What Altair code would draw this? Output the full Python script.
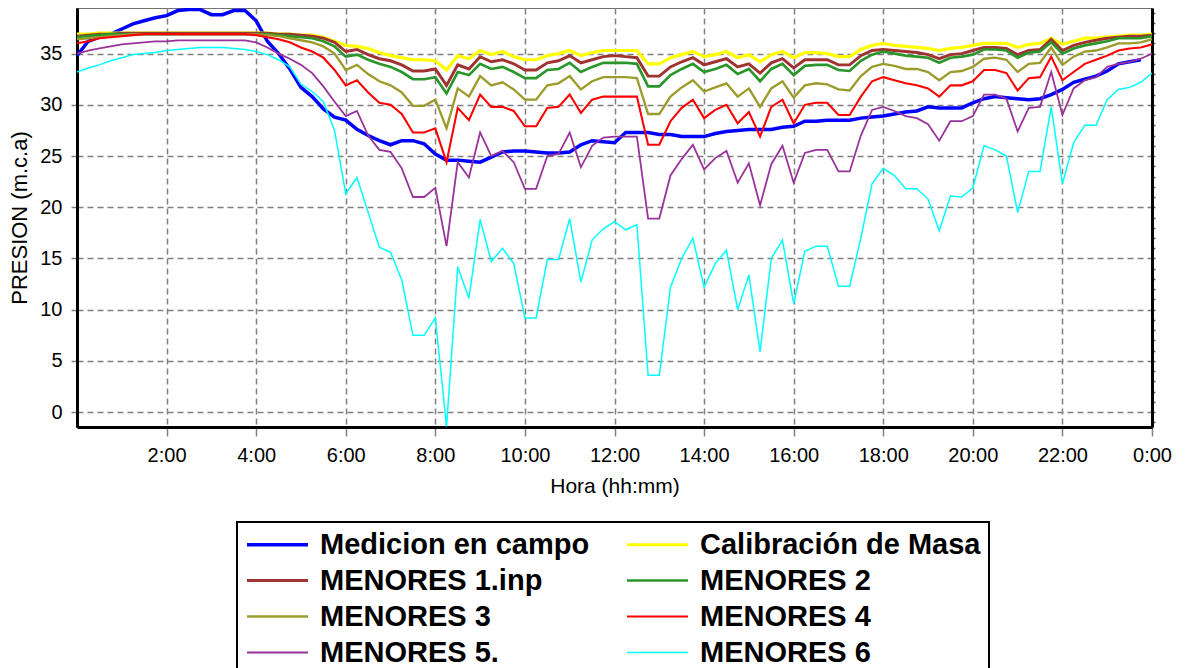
import altair as alt
import pandas as pd

# 15-minute sampling grid, 0:00 .. 24:00
HOURS = [i * 0.25 for i in range(97)]

SERIES = ["Medicion en campo", "Calibración de Masa", "MENORES 1.inp", "MENORES 2",
          "MENORES 3", "MENORES 4", "MENORES 5.", "MENORES 6"]
COLORS = ["#0000FF", "#FFFF00", "#A03232", "#2A962A", "#9C9C2C", "#FF0000", "#993399", "#00FFFF"]
WIDTHS = [3.5, 1.5, 1.5, 1.5, 1.5, 3.5, 1.5, 1.5]

medicion = [
    34.8, 36.2, 36.6, 36.9, 37.4, 37.9, 38.2, 38.5,
    38.7, 39.2, 39.3, 39.3, 38.8, 38.8, 39.2, 39.2,
    38.2, 36.2, 35.0, 33.5, 31.7, 30.8, 29.6, 28.8,
    28.5, 27.6, 27.0, 26.5, 26.1, 26.5, 26.5, 26.2,
    25.2, 24.6, 24.6, 24.5, 24.4, 24.9, 25.4, 25.5,
    25.5, 25.4, 25.3, 25.3, 25.4, 26.1, 26.5, 26.4,
    26.3, 27.3, 27.3, 27.3, 27.1, 27.1, 26.9, 26.9,
    26.9, 27.2, 27.4, 27.5, 27.6, 27.6, 27.6, 27.8,
    27.9, 28.4, 28.4, 28.5, 28.5, 28.5, 28.7, 28.8,
    28.9, 29.1, 29.3, 29.4, 29.8, 29.7, 29.7, 29.7,
    30.2, 30.6, 30.8, 30.7, 30.6, 30.5, 30.6, 31.0,
    31.5, 32.2, 32.5, 32.8, 33.3, 34.0, 34.2, 34.4,
    None,
]
calibracion = [
    36.9, 36.9, 37.0, 37.0, 37.0, 37.0, 37.0, 37.0,
    37.0, 37.0, 37.0, 37.0, 37.0, 37.0, 37.0, 37.0,
    37.0, 37.0, 36.9, 36.9, 36.8, 36.8, 36.6, 36.2,
    35.8, 35.7, 35.5, 35.1, 34.8, 34.6, 34.4, 34.4,
    34.3, 33.4, 34.8, 34.5, 35.3, 34.9, 35.2, 34.7,
    34.4, 34.4, 34.8, 35.0, 35.3, 34.8, 35.1, 35.3,
    35.3, 35.3, 35.3, 34.0, 34.0, 34.6, 34.9, 35.2,
    34.7, 34.9, 35.2, 34.6, 34.9, 34.2, 34.9, 35.2,
    34.6, 35.1, 35.1, 35.0, 34.7, 34.7, 35.4, 35.8,
    36.0, 35.8, 35.7, 35.6, 35.5, 35.3, 35.5, 35.6,
    35.8, 36.0, 36.0, 36.0, 35.6, 35.9, 36.0, 36.5,
    35.9, 36.2, 36.5, 36.5, 36.6, 36.7, 36.8, 36.8,
    36.9,
]
menores1 = [
    36.7, 36.8, 36.9, 36.9, 37.0, 37.0, 37.0, 37.0,
    37.0, 37.0, 37.0, 37.0, 37.0, 37.0, 37.0, 37.0,
    37.0, 37.0, 36.9, 36.9, 36.8, 36.7, 36.5, 36.1,
    35.2, 35.4, 34.9, 34.5, 34.3, 33.9, 33.3, 33.3,
    33.5, 31.9, 33.9, 33.5, 34.7, 34.2, 34.4, 34.0,
    33.4, 33.4, 34.1, 34.3, 34.8, 34.1, 34.4, 34.7,
    34.8, 34.7, 34.6, 32.8, 32.8, 33.7, 34.2, 34.6,
    33.9, 34.2, 34.5, 33.7, 34.0, 33.1, 34.1, 34.5,
    33.6, 34.4, 34.4, 34.4, 33.9, 33.9, 34.8, 35.3,
    35.4, 35.3, 35.2, 35.1, 34.9, 34.5, 34.9, 35.0,
    35.3, 35.6, 35.6, 35.5, 34.9, 35.3, 35.4, 36.4,
    35.3, 35.8, 36.1, 36.3, 36.5, 36.6, 36.7, 36.7,
    36.8,
]
menores2 = [
    36.6, 36.7, 36.8, 36.9, 36.9, 36.9, 36.9, 36.9,
    36.9, 36.9, 36.9, 36.9, 36.9, 36.9, 36.9, 36.9,
    36.9, 36.9, 36.8, 36.7, 36.6, 36.5, 36.2, 35.7,
    34.7, 34.9, 34.4, 34.0, 33.7, 33.2, 32.5, 32.5,
    32.7, 31.1, 33.2, 32.9, 34.0, 33.5, 33.7, 33.2,
    32.6, 32.6, 33.4, 33.5, 34.1, 33.2, 33.7, 34.1,
    34.1, 34.1, 34.0, 31.8, 31.8, 32.9, 33.5, 34.0,
    33.2, 33.5, 33.9, 33.0, 33.5, 32.3, 33.5, 34.0,
    32.9, 33.8, 33.9, 33.9, 33.4, 33.3, 34.3, 34.9,
    35.2, 35.0, 34.8, 34.7, 34.6, 34.1, 34.6, 34.7,
    34.9, 35.4, 35.4, 35.3, 34.6, 35.1, 35.2, 36.1,
    35.0, 35.5, 35.8, 36.0, 36.2, 36.5, 36.5, 36.5,
    36.7,
]
menores3 = [
    36.4, 36.5, 36.6, 36.7, 36.8, 36.9, 36.9, 36.9,
    36.9, 36.9, 36.9, 36.9, 36.9, 36.9, 36.9, 36.9,
    36.9, 36.8, 36.7, 36.5, 36.3, 36.1, 35.7, 35.0,
    33.4, 33.9, 33.0, 32.3, 31.9, 31.2, 29.9, 29.9,
    30.5, 27.7, 31.6, 30.8, 32.8, 31.9, 32.2, 31.5,
    30.5, 30.5, 31.9, 32.1, 32.8, 31.5, 32.3, 32.7,
    32.7, 32.7, 32.6, 29.1, 29.1, 30.8, 31.7, 32.4,
    31.3, 31.7, 32.1, 30.8, 31.6, 29.8, 31.6, 32.3,
    30.7, 31.9, 32.1, 32.0, 31.5, 31.4, 32.8, 33.7,
    34.0, 33.8, 33.5, 33.5, 33.2, 32.4, 33.2, 33.3,
    33.7, 34.5, 34.6, 34.4, 33.2, 34.0, 34.1, 35.6,
    33.9, 34.7, 35.2, 35.3, 35.6, 36.0, 36.0, 36.1,
    36.4,
]
menores4 = [
    36.0, 36.2, 36.5, 36.6, 36.7, 36.8, 36.9, 36.9,
    36.9, 36.9, 36.9, 36.9, 36.9, 36.9, 36.9, 36.9,
    36.8, 36.6, 36.4, 36.1, 35.6, 35.2, 34.6, 33.4,
    31.9, 32.4, 31.2, 30.2, 30.0, 29.1, 27.3, 27.3,
    27.7, 24.4, 29.7, 28.5, 31.0, 29.8, 29.8, 29.4,
    27.9, 27.9, 29.7, 29.8, 31.0, 29.2, 30.5, 30.8,
    30.8, 30.8, 30.8, 26.1, 26.1, 28.4, 29.7, 30.5,
    28.7, 29.5, 30.0, 28.2, 29.3, 26.9, 29.8, 30.5,
    28.2, 30.0, 30.2, 30.2, 29.0, 29.0, 30.8, 32.3,
    32.7, 32.4, 32.1, 31.9, 31.6, 30.8, 31.9, 31.9,
    32.3, 33.4, 33.4, 33.1, 31.4, 32.6, 32.7, 34.7,
    32.4, 33.2, 34.0, 34.4, 34.8, 35.3, 35.5, 35.6,
    35.9,
]
menores5 = [
    35.0, 35.3, 35.5, 35.7, 35.9, 36.0, 36.1, 36.2,
    36.2, 36.3, 36.3, 36.3, 36.3, 36.3, 36.3, 36.3,
    36.1, 35.6, 35.0, 34.5, 33.9, 33.1, 31.8, 30.3,
    28.9, 29.4, 27.0, 25.6, 25.4, 23.8, 21.0, 21.0,
    21.9, 16.2, 24.4, 22.9, 27.3, 25.0, 25.5, 24.4,
    21.8, 21.8, 25.0, 25.2, 27.3, 23.9, 26.0, 26.8,
    26.9, 26.9, 26.9, 18.9, 18.9, 23.1, 24.7, 26.1,
    23.7, 24.8, 25.5, 22.4, 24.3, 20.2, 24.2, 26.0,
    22.4, 25.3, 25.6, 25.6, 23.5, 23.5, 27.0, 29.5,
    29.8, 29.4, 28.9, 28.7, 28.1, 26.5, 28.4, 28.4,
    28.9, 31.0, 31.0, 30.6, 27.4, 29.7, 29.8, 33.2,
    29.0, 31.6, 32.4, 32.7, 33.7, 34.0, 34.2, 34.5,
    35.0,
]
menores6 = [
    33.2, 33.6, 33.9, 34.3, 34.6, 34.9, 35.0, 35.1,
    35.3, 35.4, 35.5, 35.6, 35.6, 35.6, 35.5, 35.4,
    35.2, 34.9, 34.4, 33.7, 32.0, 31.3, 30.3, 27.5,
    21.3, 22.9, 19.5, 16.1, 15.6, 12.9, 7.5, 7.5,
    9.2, -1.4, 14.2, 11.1, 18.8, 14.7, 16.0, 14.5,
    9.2, 9.2, 14.9, 14.9, 18.9, 12.7, 16.8, 17.9,
    18.6, 17.8, 18.3, 3.6, 3.6, 12.2, 15.0, 17.0,
    12.2, 14.5, 15.8, 10.0, 13.4, 5.9, 15.0, 16.8,
    10.6, 15.7, 16.2, 16.2, 12.3, 12.3, 17.0, 22.3,
    23.8, 23.1, 21.8, 21.8, 20.8, 17.7, 21.1, 21.0,
    21.9, 26.0, 25.6, 25.0, 19.5, 23.5, 23.5, 29.8,
    22.3, 26.3, 28.0, 28.0, 30.5, 31.5, 31.7, 32.2,
    33.1,
]
VALUES = [medicion, calibracion, menores1, menores2, menores3, menores4, menores5, menores6]

X_TICKS = [2, 4, 6, 8, 10, 12, 14, 16, 18, 20, 22, 24]
X_MINOR = [i * 0.5 for i in range(49)]
Y_TICKS = [0, 5, 10, 15, 20, 25, 30, 35]
Y_MINOR = list(range(-1, 40))

rows = []
for name, vals in zip(SERIES, VALUES):
    assert len(vals) == len(HOURS), name
    for h, v in zip(HOURS, vals):
        if v is not None:
            rows.append({"hour": h, "value": v, "series": name})
df = pd.DataFrame(rows)

FONT = "Liberation Sans"
GRID = "#808080"

xscale = alt.Scale(domain=[0, 24], nice=False, zero=False)
yscale = alt.Scale(domain=[-1.45, 39.45], nice=False, zero=False)

x_main_axis = alt.Axis(
    values=X_TICKS,
    labelExpr="datum.value == 24 ? '0:00' : datum.value + ':00'",
    title="Hora (hh:mm)", grid=True, gridColor=GRID, gridDash=[6, 4], gridWidth=1.5,
    domainColor="black", domainWidth=3, tickColor=GRID, tickSize=9, tickWidth=1.5,
    labelFont=FONT, labelFontSize=20, labelColor="black", labelPadding=9,
    labelFlush=False, titleFont=FONT, titleFontSize=21, titleFontWeight="normal",
    titleColor="black", titlePadding=10,
)
y_main_axis = alt.Axis(
    values=Y_TICKS, title="PRESION (m.c.a)", grid=True, gridColor=GRID, gridDash=[6, 4],
    gridWidth=1.5, domainColor="black", domainWidth=3, tickColor=GRID, tickSize=6,
    tickWidth=1.5, labelFont=FONT, labelFontSize=20, labelColor="black", labelPadding=9,
    labelFlush=False, titleFont=FONT, titleFontSize=22, titleFontWeight="normal",
    titleColor="black", titlePadding=8,
)

legend = alt.Legend(
    title=None, orient="none", legendX=160, legendY=514, columns=2,
    direction="horizontal", clipHeight=29,
    symbolType="stroke", symbolSize=3721,
    labelFont=FONT, labelFontSize=29, labelFontWeight="bold", labelColor="black",
    labelLimit=600, labelOffset=10, columnPadding=35, rowPadding=6,
    padding=8, strokeColor="black",
)
color = alt.Color("series:N", scale=alt.Scale(domain=SERIES, range=COLORS), legend=legend)
stroke_w = alt.StrokeWidth("series:N", scale=alt.Scale(domain=SERIES, range=WIDTHS), legend=legend)

layers = []
for i, name in enumerate(SERIES):
    layers.append(
        alt.Chart(df)
        .transform_filter(alt.datum.series == name)
        .mark_line(clip=True)
        .encode(
            x=alt.X("hour:Q", scale=xscale, axis=x_main_axis if i == 0 else None),
            y=alt.Y("value:Q", scale=yscale, axis=y_main_axis if i == 0 else None),
            color=color,
            strokeWidth=stroke_w,
        )
    )

minor = alt.Chart(df).mark_line(opacity=0).encode(
    x=alt.X("hour:Q", scale=xscale, axis=alt.Axis(
        values=X_MINOR, labels=False, grid=False, domain=False, tickColor=GRID,
        tickSize=5, tickWidth=1.5, title=None)),
    y=alt.Y("value:Q", scale=yscale, axis=alt.Axis(
        values=Y_MINOR, labels=False, grid=False, domain=False, tickColor="#666666",
        tickSize=3, tickWidth=1.5, title=None)),
    detail="series:N",
)

border = alt.Chart(df).mark_line(opacity=0).encode(
    x=alt.X("hour:Q", scale=xscale, axis=None),
    y=alt.Y("value:Q", scale=yscale, axis=alt.Axis(
        orient="right", labels=False, ticks=False, grid=False, domain=True,
        domainColor="black", domainWidth=3, title=None)),
    detail="series:N",
)

chart = (
    alt.layer(*layers, minor, border)
    .resolve_axis(x="independent", y="independent")
    .properties(
        width=1075, height=419,
        autosize=alt.AutoSizeParams(type="none"),
        padding={"left": 69, "top": 0, "right": 26, "bottom": 241},
        background="white",
    )
    .configure_view(stroke="#444444", strokeWidth=1.5)
    .configure_legend(strokeWidth=2)
)

chart.save("out.html", embed_options={"renderer": "svg", "actions": False})
